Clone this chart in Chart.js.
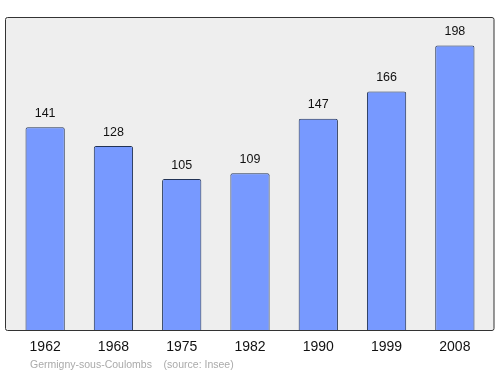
<!DOCTYPE html>
<html><head><meta charset="utf-8">
<script src="https://cdn.jsdelivr.net/npm/chart.js@4/dist/chart.umd.min.js"></script>
<style>html,body{margin:0;padding:0;background:#fff}#wrap{width:500px;height:374px}</style>
</head><body><div id="wrap"><canvas id="c" width="500" height="374"></canvas></div>
<script>
const years = ['1962','1968','1975','1982','1990','1999','2008'];
const population = [141,128,105,109,147,166,198];
const sourceText = 'Germigny-sous-Coulombs    (source: Insee)';

const boxPlugin = {
  id: 'box',
  beforeDatasetsDraw(chart) {
    const a = chart.chartArea, ctx = chart.ctx;
    ctx.save();
    ctx.fillStyle = '#eeeeee';
    ctx.strokeStyle = '#333333';
    ctx.lineWidth = 1;
    ctx.beginPath();
    ctx.roundRect(a.left - 5.5, a.top + 0.5, a.right - a.left + 10.5, a.bottom - a.top, 2);
    ctx.fill();
    ctx.stroke();
    ctx.restore();
  },
  afterDatasetsDraw(chart) {
    const ctx = chart.ctx, meta = chart.getDatasetMeta(0);
    ctx.save();
    ctx.fillStyle = '#111';
    ctx.font = '12.5px "Liberation Sans", Arial, sans-serif';
    ctx.textAlign = 'center';
    ctx.textBaseline = 'middle';
    meta.data.forEach((bar, i) => {
      ctx.fillText(String(population[i]), bar.x, bar.y - 14);
    });
    ctx.font = '10.5px "Liberation Sans", Arial, sans-serif';
    ctx.fillStyle = '#aaaaaa';
    ctx.textAlign = 'left';
    ctx.fillText(sourceText, 30, 365);
    ctx.restore();
  }
};

new Chart(document.getElementById('c'), {
  type: 'bar',
  data: {
    labels: years,
    datasets: [{
      data: population,
      backgroundColor: '#7799ff',
      borderColor: '#223355',
      borderWidth: 1,
      borderRadius: 2,
      borderSkipped: 'bottom',
      barPercentage: 0.575,
      categoryPercentage: 1.0
    }]
  },
  options: {
    responsive: false,
    animation: false,
    events: [],
    layout: { padding: { left: 11, right: 11, top: 17, bottom: 0 } },
    plugins: { legend: { display: false }, tooltip: { enabled: false }, title: { display: false } },
    scales: {
      x: {
        grid: { display: false, drawTicks: false },
        border: { display: false },
        ticks: { color: '#111', font: { size: 14, family: '"Liberation Sans", Arial, sans-serif' }, padding: 9, maxRotation: 0 },
        afterFit(scale) { scale.height = 44; }
      },
      y: { display: false, min: 0, max: 217.8 }
    }
  },
  plugins: [boxPlugin]
});
</script></body></html>
